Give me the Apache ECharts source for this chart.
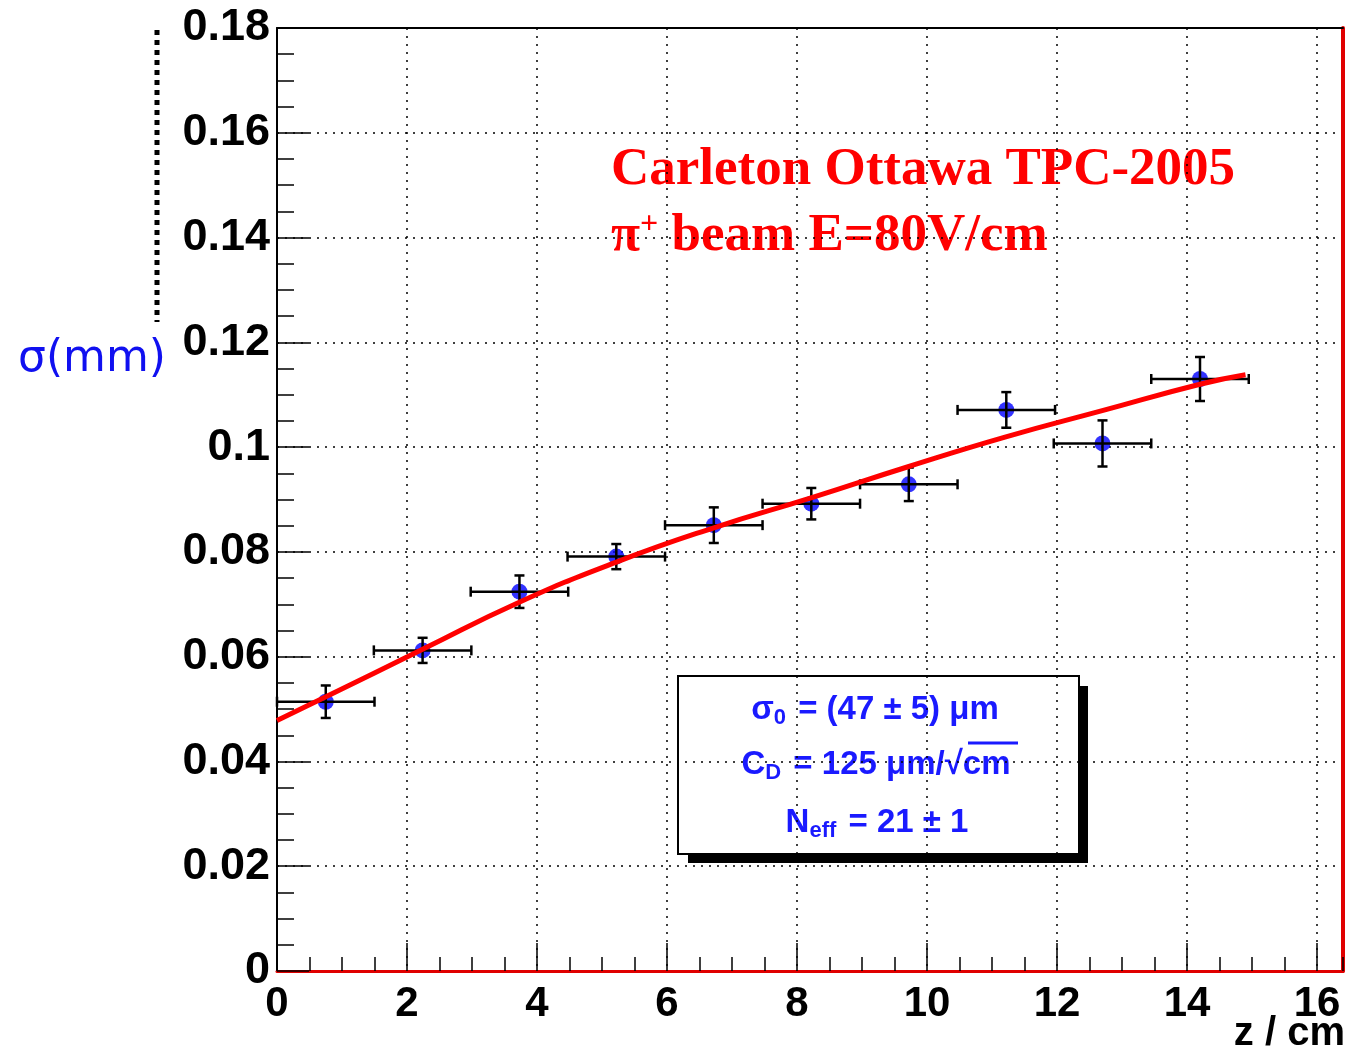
<!DOCTYPE html>
<html style="height: 100%">
<head>
  <meta charset="utf-8">
  <title>Carleton Ottawa TPC-2005 resolution</title>
  <script src="https://cdn.jsdelivr.net/npm/echarts@6/dist/echarts.min.js"></script>
</head>
<body style="margin:0;height:100%;background:#fff">
  <div id="main" style="width:1350px;height:1050px"></div>
  <script>
    // measured points: drift distance z (cm), resolution sigma (mm)
    var zCenter = [0.75, 2.24, 3.73, 5.22, 6.72, 8.22, 9.72, 11.22, 12.70, 14.20];
    var zErr = [0.75, 0.75, 0.75, 0.75, 0.75, 0.75, 0.75, 0.75, 0.75, 0.75];
    var sigma = [0.0514, 0.0612, 0.0724, 0.0791, 0.0851, 0.0892, 0.0929, 0.1071, 0.1007, 0.1130];
    var sigmaErr = [0.0031, 0.0024, 0.0031, 0.0024, 0.0034, 0.0030, 0.0032, 0.0034, 0.0044, 0.0042];

    // fitted curve
    var fitZ = [0, 0.76, 2.24, 3.71, 5.23, 6.72, 8.24, 9.72, 11.2, 12.71, 14.2, 14.9];
    var fitSigma = [0.0478, 0.0524, 0.0614, 0.0703, 0.0781, 0.0846, 0.0904, 0.0963, 0.1019, 0.1070, 0.1120, 0.1138];

    var points = zCenter.map(function (z, i) { return [z, sigma[i], zErr[i], sigmaErr[i]]; });
    var fit = fitZ.map(function (z, i) { return [z, fitSigma[i]]; });

    var chart = echarts.init(document.getElementById('main'));

    function renderErr(params, api) {
      var x = api.value(0), y = api.value(1), ex = api.value(2), ey = api.value(3);
      var l = api.coord([x - ex, y]), r = api.coord([x + ex, y]);
      var t = api.coord([x, y + ey]), b = api.coord([x, y - ey]);
      var c = 5;
      var st = { stroke: '#000', lineWidth: 2.5 };
      return {
        type: 'group',
        children: [
          { type: 'line', shape: { x1: l[0], y1: l[1], x2: r[0], y2: r[1] }, style: st },
          { type: 'line', shape: { x1: l[0], y1: l[1] - c, x2: l[0], y2: l[1] + c }, style: st },
          { type: 'line', shape: { x1: r[0], y1: r[1] - c, x2: r[0], y2: r[1] + c }, style: st },
          { type: 'line', shape: { x1: t[0], y1: t[1], x2: b[0], y2: b[1] }, style: st },
          { type: 'line', shape: { x1: t[0] - c, y1: t[1], x2: t[0] + c, y2: t[1] }, style: st },
          { type: 'line', shape: { x1: b[0] - c, y1: b[1], x2: b[0] + c, y2: b[1] }, style: st }
        ]
      };
    }

    var dotted = { color: '#000', width: 1.5, type: [2, 6] };
    var blue = '#1a1aff';
    var boxRich = {
      b: { fontFamily: 'Liberation Sans', fontWeight: 'bold', fontSize: 33, fill: blue, color: blue },
      s: { fontFamily: 'Liberation Sans', fontWeight: 'bold', fontSize: 22, fill: blue, color: blue, verticalAlign: 'bottom', padding: [16, 3, 0, 0] }
    };

    chart.setOption({
      animation: false,
      grid: { left: 277, right: 7, top: 28, bottom: 79 },
      xAxis: [
        {
          type: 'value', min: 0, max: 16.4, interval: 2,
          axisLine: { lineStyle: { color: '#e00000', width: 3 } },
          axisTick: { inside: true, length: 28, lineStyle: { color: '#000', width: 1.5 } },
          axisLabel: { margin: 12, showMaxLabel: false, fontFamily: 'Liberation Sans', fontWeight: 'bold', fontSize: 42, color: '#000' },
          splitLine: { show: true, lineStyle: dotted }
        },
        {
          type: 'value', min: 0, max: 16.4, position: 'top',
          axisLine: { onZero: false, lineStyle: { color: '#000', width: 2 } },
          axisTick: { show: false }, axisLabel: { show: false }, splitLine: { show: false }
        },
        {
          type: 'value', min: 0, max: 16.4, interval: 0.5, position: 'bottom',
          axisLine: { show: false, onZero: false },
          axisTick: { inside: true, length: 14, lineStyle: { color: '#000', width: 1.5 } },
          axisLabel: { show: false }, splitLine: { show: false }
        }
      ],
      yAxis: [
        {
          type: 'value', min: 0, max: 0.18, interval: 0.02,
          axisLine: { lineStyle: { color: '#000', width: 2 } },
          axisTick: { inside: true, length: 32, lineStyle: { color: '#000', width: 1.5 } },
          minorTick: { show: true, splitNumber: 4, length: 17, lineStyle: { color: '#000', width: 1.5 } },
          axisLabel: {
            margin: 7, fontFamily: 'Liberation Sans', fontWeight: 'bold', fontSize: 45, color: '#000',
            formatter: function (v) { return v === 0 ? '0' : String(+v.toFixed(2)); }
          },
          splitLine: { show: true, lineStyle: dotted }
        },
        {
          type: 'value', min: 0, max: 0.18, position: 'right',
          axisLine: { onZero: false, lineStyle: { color: '#e00000', width: 4 } },
          axisTick: { show: false }, axisLabel: { show: false }, splitLine: { show: false }
        }
      ],
      series: [
        {
          type: 'scatter', data: points, symbol: 'circle', symbolSize: 16,
          itemStyle: { color: '#0000ff' }, z: 3
        },
        {
          type: 'custom', data: points, renderItem: renderErr, z: 4
        },
        {
          type: 'line', data: fit, smooth: true, showSymbol: false,
          lineStyle: { color: '#ff0000', width: 5 }, z: 5
        }
      ],
      graphic: [
        {
          type: 'line', shape: { x1: 157, y1: 30, x2: 157, y2: 322 },
          style: { stroke: '#000', lineWidth: 5, lineDash: [5, 5] }
        },
        {
          type: 'text', x: 18, y: 360,
          style: {
            text: 'σ(mm)', fill: '#1010f0', font: '44px "DejaVu Sans"',
            align: 'left', verticalAlign: 'middle', textAlign: 'left', textVerticalAlign: 'middle'
          }
        },
        {
          type: 'text', x: 1345, y: 1034,
          style: {
            text: 'z / cm', fill: '#000', font: 'bold 40px "Liberation Sans"',
            align: 'right', verticalAlign: 'middle', textAlign: 'right', textVerticalAlign: 'middle'
          }
        },
        {
          type: 'text', x: 611, y: 170,
          style: {
            text: 'Carleton Ottawa TPC-2005', fill: '#ff0000', font: 'bold 53px "Liberation Serif"',
            align: 'left', verticalAlign: 'middle', textAlign: 'left', textVerticalAlign: 'middle'
          }
        },
        {
          type: 'text', x: 611, y: 236,
          style: {
            text: '{n|π}{s|+}{n| beam E=80V/cm}', fill: '#ff0000',
            align: 'left', verticalAlign: 'middle', textAlign: 'left', textVerticalAlign: 'middle',
            rich: {
              n: { fontFamily: 'Liberation Serif', fontWeight: 'bold', fontSize: 53, fill: '#ff0000', color: '#ff0000' },
              s: { fontFamily: 'Liberation Serif', fontWeight: 'bold', fontSize: 32, fill: '#ff0000', color: '#ff0000', verticalAlign: 'top', padding: [0, 0, 22, 0] }
            }
          }
        },
        {
          type: 'rect', shape: { x: 688, y: 686, width: 400, height: 177 },
          style: { fill: '#000' }
        },
        {
          type: 'rect', shape: { x: 678, y: 676, width: 401, height: 178 },
          style: { fill: '#fff', stroke: '#000', lineWidth: 2 }
        },
        {
          type: 'text', x: 875, y: 710,
          style: {
            text: '{b|σ}{s|0}{b| = (47 ± 5) μm}',
            align: 'center', verticalAlign: 'middle', textAlign: 'center', textVerticalAlign: 'middle',
            rich: boxRich
          }
        },
        {
          type: 'text', x: 876, y: 765,
          style: {
            text: '{b|C}{s|D}{b| = 125 μm/√cm}',
            align: 'center', verticalAlign: 'middle', textAlign: 'center', textVerticalAlign: 'middle',
            rich: boxRich
          }
        },
        {
          type: 'line', shape: { x1: 968, y1: 743, x2: 1018, y2: 743 },
          style: { stroke: blue, lineWidth: 3 }
        },
        {
          type: 'text', x: 877, y: 823,
          style: {
            text: '{b|N}{s|eff}{b| = 21 ± 1}',
            align: 'center', verticalAlign: 'middle', textAlign: 'center', textVerticalAlign: 'middle',
            rich: boxRich
          }
        }
      ]
    });
  </script>
</body>
</html>
